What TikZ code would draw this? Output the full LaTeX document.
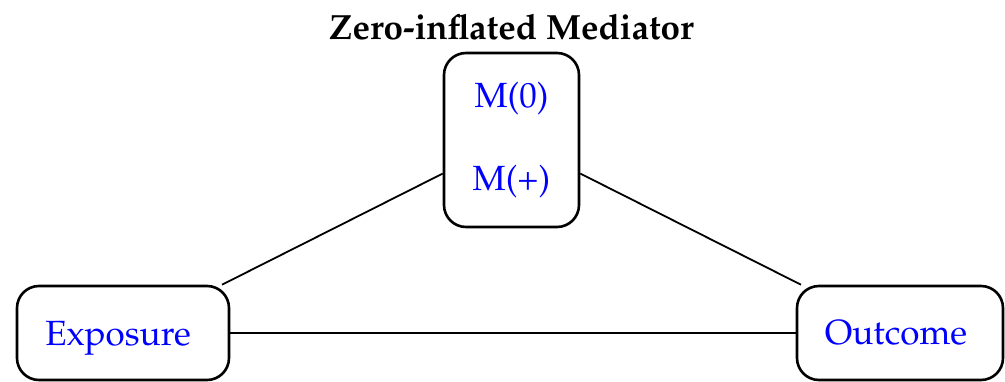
\documentclass[tikz,border=0pt]{standalone}
\usepackage[T1]{fontenc}
\usepackage{mathpazo}
\begin{document}
\begin{tikzpicture}[x=1pt,y=-1pt,
  box/.style={draw=black, line width=2.6pt, rounded corners=22pt, text=blue, inner sep=0pt,
    font=\fontsize{35}{42}\selectfont},
  conn/.style={draw=black, line width=1.8pt}]
\useasboundingbox (0,0) rectangle (1005,381);
\node[font=\bfseries\fontsize{35}{40}\selectfont] (T) at (511.5,27) {Zero-inflated Mediator};
\node[box, minimum width=135pt, minimum height=174pt, align=center] (M) at (511.5,140) {M(0)\\[42pt]M(+)};
\node[box, minimum width=212pt, minimum height=94pt, text depth=0pt] (E) at (123,333) {\hspace*{-10pt}Exposure};
\node[box, minimum width=206pt, minimum height=94pt] (O) at (900,333) {\hspace*{-8pt}Outcome};
\draw[conn] (E.26) -- (M.206);
\draw[conn] (M.334) -- (O.154);
\draw[conn] (E.east) -- (O.west);
\end{tikzpicture}
\end{document}
